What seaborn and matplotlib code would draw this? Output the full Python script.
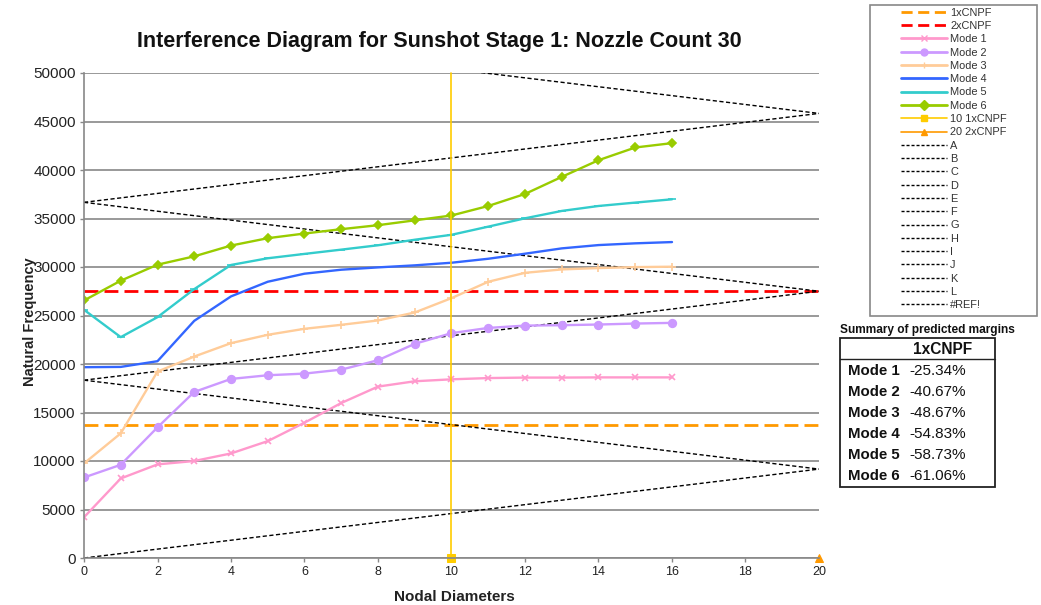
import matplotlib
matplotlib.use("Agg")
import matplotlib.pyplot as plt
from matplotlib.patches import Rectangle
from matplotlib.lines import Line2D
import seaborn as sns
import numpy as np
import pandas as pd

# ---------------- data ----------------
nodal_diameters = list(range(0, 17))
mode1 = [4200, 8200, 9650, 10000, 10780, 12050, 13950, 15980, 17670, 18220, 18420,
         18550, 18600, 18600, 18620, 18620, 18620]
mode2 = [8300, 9610, 13470, 17120, 18460, 18840, 19010, 19420, 20390, 22080, 23180,
         23720, 23960, 24000, 24070, 24170, 24240]
mode3 = [9750, 12850, 19220, 20770, 22150, 23010, 23630, 24040, 24490, 25310, 26790,
         28480, 29400, 29750, 29890, 29990, 30030]
mode4 = [19670, 19700, 20290, 24450, 26970, 28480, 29310, 29720, 29960, 30170, 30440,
         30850, 31370, 31920, 32260, 32440, 32570]
mode5 = [25590, 22770, 24830, 27720, 30210, 30900, 31350, 31790, 32240, 32810, 33320,
         34160, 35020, 35780, 36290, 36640, 36980]
mode6 = [26550, 28590, 30240, 31100, 32210, 32970, 33450, 33900, 34310, 34810, 35310,
         36290, 37530, 39290, 41010, 42320, 42770]
mode_names = ["Mode 1", "Mode 2", "Mode 3", "Mode 4", "Mode 5", "Mode 6"]
mode_values = [mode1, mode2, mode3, mode4, mode5, mode6]

cnpf_x = [0, 20]
cnpf1 = [13750, 13750]
cnpf2 = [27500, 27500]

cross1_x = [10, 10]
cross1_y = [0, 50000]
cross2_x = [20]
cross2_y = [0]

zig_labels = ["A", "B", "C", "D", "E", "F", "G", "H", "I", "J", "K", "L", "#REF!"]
zig_x = [0, 20]
zig_start = [0, 18333, 18333, 36667, 36667, 55000, 55000, 73333, 73333, 91667, 91667, 110000, 110000]
zig_end = [9167, 9167, 27500, 27500, 45833, 45833, 64167, 64167, 82500, 82500, 100833, 100833, 119167]

margin_modes = ["Mode 1", "Mode 2", "Mode 3", "Mode 4", "Mode 5", "Mode 6"]
margin_vals = ["-25.34%", "-40.67%", "-48.67%", "-54.83%", "-58.73%", "-61.06%"]

x_ticks = list(range(0, 21, 2))
y_ticks = list(range(0, 50001, 5000))

# ---------------- styling ----------------
sns.set_theme(style="white")
plt.rcParams["font.family"] = ["Liberation Sans", "DejaVu Sans"]

W, H = 1041, 605
fig = plt.figure(figsize=(W / 100, H / 100), dpi=100)
ax = fig.add_axes([84 / W, 1 - 558 / H, (819 - 84) / W, (558 - 73) / H])

mode_colors = ["#FF99CC", "#CC99FF", "#FFCC99", "#3366FF", "#33CCCC", "#99CC00"]
mode_markers = ["x", "o", "+", None, "_", "D"]
mode_msize = [5, 5.5, 6, 0, 6, 4.5]

# horizontal CNPF lines
sns.lineplot(x=cnpf_x, y=cnpf1, ax=ax, color="#FF9900", lw=2.0, estimator=None)
l1 = ax.lines[-1]; l1.set_dashes([5, 2.2])
sns.lineplot(x=cnpf_x, y=cnpf2, ax=ax, color="#FF0000", lw=2.0, estimator=None)
l2 = ax.lines[-1]; l2.set_dashes([5, 2.2])

# zig-zag lines
for lab, s, e in zip(zig_labels, zig_start, zig_end):
    sns.lineplot(x=zig_x, y=[s, e], ax=ax, color="black", lw=1.0, estimator=None)
    ax.lines[-1].set_dashes([3, 1.8])

# mode curves
for name, vals, c, m, ms in zip(mode_names, mode_values, mode_colors, mode_markers, mode_msize):
    df = pd.DataFrame({"nd": nodal_diameters, "f": vals})
    kw = dict(marker=m, markersize=ms, markeredgecolor=c, markerfacecolor=c,
              markeredgewidth=1.2) if m else {}
    sns.lineplot(data=df, x="nd", y="f", ax=ax, color=c, lw=1.7, estimator=None, **kw)

# crossing markers
sns.lineplot(x=cross1_x, y=cross1_y, ax=ax, color="#FFCC00", lw=1.2,
             estimator=None, sort=False)
c1 = ax.lines[-1]
c1.set_marker("s"); c1.set_markevery([0]); c1.set_markersize(6)
c1.set_markerfacecolor("#FFCC00"); c1.set_markeredgecolor("#FFCC00"); c1.set_clip_on(False)
sns.lineplot(x=cross2_x, y=cross2_y, ax=ax, color="#FF9900", lw=1.2, estimator=None,
             marker="^", markersize=6, markeredgecolor="#FF9900")
ax.lines[-1].set_clip_on(False)

# axes
ax.set_xlim(0, 20)
ax.set_ylim(0, 50000)
ax.set_xticks(x_ticks)
ax.set_yticks(y_ticks)
ax.set_xticklabels([str(t) for t in x_ticks], fontsize=9, color="#222222")
ax.set_yticklabels([str(t) for t in y_ticks], fontsize=11, color="#222222")
ax.yaxis.grid(True, color="#999999", lw=1.4)
ax.xaxis.grid(False)
ax.set_axisbelow(True)
for s in ["top", "right"]:
    ax.spines[s].set_visible(False)
for s in ["left", "bottom"]:
    ax.spines[s].set_color("#888888")
    ax.spines[s].set_linewidth(1.2)
ax.tick_params(axis="both", which="both", direction="out", length=3, width=1,
               color="#888888", bottom=True, left=True, pad=3)
ax.set_xlabel("")
ax.set_ylabel("")

fig.text(454 / W, 1 - 597 / H, "Nodal Diameters", ha="center", va="center",
         fontsize=11, fontweight="bold", color="#222222")
fig.text(30 / W, 1 - 322 / H, "Natural Frequency", ha="center", va="center",
         rotation=90, fontsize=10.5, fontweight="bold", color="#222222")
fig.text(439 / W, 1 - 42 / H, "Interference Diagram for Sunshot Stage 1: Nozzle Count 30",
         ha="center", va="center", fontsize=15.5, fontweight="bold", color="#111111")

# legend
proxy_modes = []
for c, m in zip(mode_colors, mode_markers):
    proxy_modes.append(Line2D([], [], color=c, lw=2.0, marker=m if m else "",
                              ms=5, markeredgecolor=c, markerfacecolor=c))
proxy_1 = Line2D([], [], color="#FF9900", lw=2.0, dashes=[4, 2])
proxy_2 = Line2D([], [], color="#FF0000", lw=2.0, dashes=[4, 2])
proxy_c1 = Line2D([], [], color="#FFCC00", lw=1.2, marker="s", ms=5)
proxy_c2 = Line2D([], [], color="#FF9900", lw=1.2, marker="^", ms=5)
proxy_z = [Line2D([], [], color="black", lw=1.0, dashes=[2.2, 1.4]) for _ in zig_labels]
all_h = [proxy_1, proxy_2] + proxy_modes + [proxy_c1, proxy_c2] + proxy_z
all_l = ["1xCNPF", "2xCNPF"] + mode_names + ["10 1xCNPF", "20 2xCNPF"] + zig_labels

fig.patches.append(Rectangle((870 / W, 1 - 316 / H), (1037 - 870) / W, (316 - 5) / H,
                             transform=fig.transFigure, fill=False,
                             edgecolor="#888888", lw=1.2))
leg = fig.legend(all_h, all_l, loc="upper left", bbox_to_anchor=(898 / W, 1 - 5 / H),
                 frameon=False, fontsize=7.9, handlelength=4.2, handletextpad=0.3,
                 labelspacing=0.30, borderpad=0.25, borderaxespad=0)
for t in leg.get_texts():
    t.set_color("#333333")

# summary table
fig.text(840 / W, 1 - 330 / H, "Summary of predicted margins", ha="left", va="center",
         fontsize=8.6, fontweight="bold", color="#111111")
fig.patches.append(Rectangle((840 / W, 1 - 487 / H), (995 - 840) / W, (487 - 338) / H,
                             transform=fig.transFigure, fill=False,
                             edgecolor="#222222", lw=1.3))
fig.lines.append(Line2D([840 / W, 995 / W], [1 - 359 / H, 1 - 359 / H],
                        transform=fig.transFigure, color="#222222", lw=1.0))
fig.text(943 / W, 1 - 350 / H, "1xCNPF", ha="center", va="center",
         fontsize=11.2, fontweight="bold", color="#111111")
row_y = [371, 392, 413, 434, 455, 476]
for ry, mname, mval in zip(row_y, margin_modes, margin_vals):
    fig.text(848 / W, 1 - ry / H, mname, ha="left", va="center", fontsize=10.8,
             fontweight="bold", color="#111111")
    fig.text(909 / W, 1 - ry / H, mval, ha="left", va="center", fontsize=11,
             color="#111111")

fig.savefig("out.png", dpi=100)
